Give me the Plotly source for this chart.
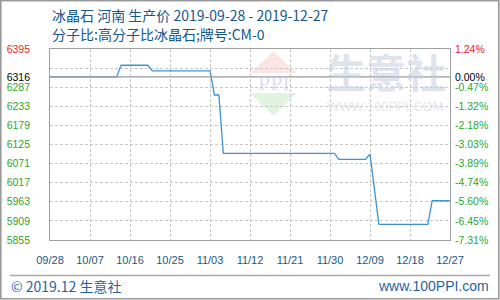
import plotly.graph_objects as go

# ---- data ----
dates = ["2019-09-28", "2019-10-13", "2019-10-14", "2019-10-20", "2019-10-21",
         "2019-11-03", "2019-11-04", "2019-11-05", "2019-11-06", "2019-12-01",
         "2019-12-02", "2019-12-08", "2019-12-09", "2019-12-11", "2019-12-22",
         "2019-12-23", "2019-12-27"]
prices = [6316, 6316, 6349, 6349, 6333,
          6333, 6265, 6265, 6100, 6100,
          6083, 6083, 6098, 5899, 5899,
          5966, 5966]

base_price = 6316
grid_vals = [6395, 6341, 6287, 6233, 6179, 6125, 6071, 6017, 5963, 5909, 5855]
left_vals = [6395, 6316, 6287, 6233, 6179, 6125, 6071, 6017, 5963, 5909, 5855]
left_text = ["6395", "6316", "6287", "6233", "6179", "6125", "6071", "6017", "5963", "5909", "5855"]
right_text = ["1.24%", "0.00%", "-0.47%", "-1.32%", "-2.18%", "-3.03%", "-3.89%",
              "-4.74%", "-5.60%", "-6.45%", "-7.31%"]
x_ticks = ["2019-09-28", "2019-10-07", "2019-10-16", "2019-10-25", "2019-11-03",
           "2019-11-12", "2019-11-21", "2019-11-30", "2019-12-09", "2019-12-18",
           "2019-12-27"]
x_text = ["09/28", "10/07", "10/16", "10/25", "11/03", "11/12", "11/21", "11/30",
          "12/09", "12/18", "12/27"]

title1 = "冰晶石 河南 生产价 2019-09-28 - 2019-12-27"
title2 = "分子比:高分子比冰晶石;牌号:CM-0"
footer_left = "© 2019.12 生意社"
footer_right = "www.100PPI.com"

RED = "#e8261e"
GREEN = "#2aa62a"
BLACK = "#000000"
BLUE_TXT = "#15578a"

def lbl_color(i):
    if i == 0:
        return RED
    if i == 1:
        return BLACK
    return GREEN

left_html = [f"<span style='color:{lbl_color(i)}'>{t}</span>" for i, t in enumerate(left_text)]
right_html = [f"<span style='color:{lbl_color(i)}'>{t}</span>" for i, t in enumerate(right_text)]

W, H = 500, 300
ML, MR, MT, MB = 50, 50, 49, 60
PW, PH = W - ML - MR, H - MT - MB

def px(x):
    return (x - ML) / PW

def py(y):
    return (H - MB - y) / PH

fig = go.Figure()

fig.add_trace(go.Scatter(x=dates, y=prices, mode="lines",
                         line=dict(color="#3d94d1", width=1.3),
                         hoverinfo="skip", showlegend=False))
fig.add_trace(go.Scatter(x=[dates[0]], y=[prices[0]], yaxis="y2", mode="markers",
                         marker=dict(opacity=0), hoverinfo="skip", showlegend=False))
fig.add_trace(go.Scatter(x=[dates[0]], y=[prices[0]], yaxis="y3", mode="markers",
                         marker=dict(opacity=0), hoverinfo="skip", showlegend=False))

yrange = [min(grid_vals), max(grid_vals)]

fig.update_layout(
    width=W, height=H,
    margin=dict(l=ML, r=MR, t=MT, b=MB, autoexpand=False),
    paper_bgcolor="white", plot_bgcolor="white",
    xaxis=dict(type="date", range=[x_ticks[0], x_ticks[-1]],
               tickvals=x_ticks, ticktext=x_text, automargin=False,
               showgrid=True, gridcolor="#c8c8c8", griddash="3px,2px", gridwidth=1,
               showline=True, linecolor="#a0a0a0", linewidth=1, mirror=True,
               ticks="", ticklabelstandoff=10,
               tickfont=dict(family="Liberation Sans", size=11, color=BLUE_TXT),
               zeroline=False, fixedrange=True),
    yaxis=dict(range=yrange, tickvals=grid_vals, automargin=False,
               ticktext=[""] * len(grid_vals),
               showgrid=True, gridcolor="#c8c8c8", griddash="3px,2px", gridwidth=1,
               showline=True, linecolor="#a0a0a0", linewidth=1, mirror=True,
               ticks="", zeroline=False, fixedrange=True),
    yaxis3=dict(range=yrange, overlaying="y", side="left", automargin=False,
                tickvals=left_vals, ticktext=left_html,
                showgrid=False, showline=False, ticks="", ticklabelstandoff=19,
                tickfont=dict(family="Liberation Sans", size=10.5),
                zeroline=False, fixedrange=True),
    yaxis2=dict(range=yrange, overlaying="y", side="right", automargin=False,
                tickvals=left_vals, ticktext=right_html,
                showgrid=False, showline=False, ticks="", ticklabelstandoff=4,
                tickfont=dict(family="Liberation Sans", size=10.5),
                zeroline=False, fixedrange=True),
)

shapes = []
shapes.append(dict(type="path", xref="paper", yref="paper", layer="below",
                   path=f"M {px(250)} {py(73.3)} L {px(273.3)} {py(51.7)} L {px(296.7)} {py(73.3)} Z",
                   fillcolor="#fbe4e1", line=dict(width=0)))
shapes.append(dict(type="path", xref="paper", yref="paper", layer="below",
                   path=f"M {px(250)} {py(93.3)} L {px(296.7)} {py(93.3)} L {px(273.3)} {py(115.7)} Z",
                   fillcolor="#e0f2e0", line=dict(width=0)))
shapes.append(dict(type="line", xref="paper", yref="y", x0=0, x1=1,
                   y0=base_price, y1=base_price,
                   line=dict(color="#999999", width=1.3), layer="above"))
shapes.append(dict(type="line", xref="paper", yref="paper",
                   x0=px(10), x1=px(490), y0=py(275.5), y1=py(275.5),
                   line=dict(color="#a8a8a8", width=1.5)))
shapes.append(dict(type="rect", xref="paper", yref="paper",
                   x0=px(0.8), x1=px(498.8), y0=py(298.8), y1=py(0.8),
                   line=dict(color="#9a9a9a", width=1.6)))
fig.update_layout(shapes=shapes)

ann = []
ann.append(dict(text="PPI", xref="paper", yref="paper", x=px(274), y=py(82.5),
                xanchor="center", yanchor="middle", showarrow=False,
                font=dict(family="Liberation Serif", size=22, color="rgba(170,188,222,0.45)")))
ann.append(dict(text="<b>生意社</b>", xref="paper", yref="paper", x=px(386), y=py(71),
                xanchor="center", yanchor="middle", showarrow=False,
                font=dict(family="Noto Sans CJK SC", size=40, color="rgba(196,204,222,0.55)")))
ann.append(dict(text="WWW.100PPI.COM", xref="paper", yref="paper", x=px(384.5), y=py(106),
                xanchor="center", yanchor="middle", showarrow=False,
                font=dict(family="Liberation Sans", size=13, color="rgba(205,208,218,0.55)")))
ann.append(dict(text=title1, xref="paper", yref="paper", x=px(50), y=py(14.5),
                xanchor="left", yanchor="middle", showarrow=False,
                font=dict(family="Noto Sans CJK SC", size=14, color=BLUE_TXT)))
ann.append(dict(text=title2, xref="paper", yref="paper", x=px(50), y=py(33.5),
                xanchor="left", yanchor="middle", showarrow=False,
                font=dict(family="Noto Sans CJK SC", size=14, color=BLUE_TXT)))
ann.append(dict(text=footer_left, xref="paper", yref="paper", x=px(9), y=py(286),
                xanchor="left", yanchor="middle", showarrow=False,
                font=dict(family="Noto Sans CJK SC", size=14, color="#1f64a0")))
ann.append(dict(text=footer_right, xref="paper", yref="paper", x=px(491), y=py(286),
                xanchor="right", yanchor="middle", showarrow=False,
                font=dict(family="Liberation Sans", size=14, color="#1f64a0")))
fig.update_layout(annotations=ann)

fig.write_html("out.html")
